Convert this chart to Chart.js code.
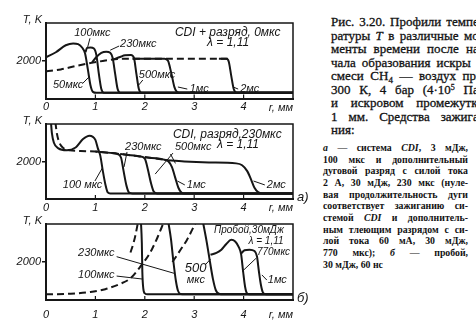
<!DOCTYPE html>
<html>
<head>
<meta charset="utf-8">
<script src="https://cdn.jsdelivr.net/npm/chart.js@4.4.0/dist/chart.umd.min.js"></script>
<style>
body{margin:0;width:476px;height:330px;overflow:hidden;background:#fff;position:relative}
canvas{position:absolute;left:0}
.cap{position:absolute;color:#111}
.cap div{position:absolute;left:0;text-align:justify;text-align-last:justify}
#capTop{left:331px;top:0;width:152px;font:13px "Liberation Serif",serif;-webkit-text-stroke:0.3px #111}
#capTop div{width:152px;height:14px;line-height:14px}
#capBot{left:323px;top:0;width:145px;font:bold 9.8px "Liberation Serif",serif}
#capBot div{width:145px;height:12px;line-height:12px}
.sub{font-size:9px;position:relative;top:3px}
.sup{font-size:8px;position:relative;top:-4px}
</style>
</head>
<body>
<canvas id="pA" width="320" height="114" style="top:0"></canvas>
<canvas id="pB" width="320" height="100" style="top:114px"></canvas>
<canvas id="pC" width="320" height="116" style="top:214px"></canvas>

<div class="cap" id="capTop">
  <div style="top:15px">Рис. 3.20. Профили темпе-</div>
  <div style="top:28.5px">ратуры <i>T</i> в различные мо-</div>
  <div style="top:42px">менты времени после на-</div>
  <div style="top:55.5px">чала образования искры в</div>
  <div style="top:69px">смеси CH<span class="sub">4</span> — воздух при</div>
  <div style="top:82.5px">300 К, 4 бар (4·10<span class="sup">5</span> Па)</div>
  <div style="top:96px">и искровом промежутке</div>
  <div style="top:109.5px">1 мм. Средства зажига-</div>
  <div style="top:123px;text-align-last:left">ния:</div>
</div>
<div class="cap" id="capBot">
  <div style="top:142px"><i>а</i> — система <i>CDI</i>, 3 мДж,</div>
  <div style="top:153.7px">100 мкс и дополнительный</div>
  <div style="top:165.3px">дуговой разряд с силой тока</div>
  <div style="top:177px">2 А, 30 мДж, 230 мкс (нуле-</div>
  <div style="top:188.6px">вая продолжительность дуги</div>
  <div style="top:200.3px">соответствует зажиганию си-</div>
  <div style="top:212px">стемой <i>CDI</i> и дополнитель-</div>
  <div style="top:223.6px">ным тлеющим разрядом с си-</div>
  <div style="top:235.3px">лой тока 60 мА, 30 мДж,</div>
  <div style="top:247px">770 мкс); <i>б</i>&nbsp;—&nbsp;пробой,</div>
  <div style="top:258.6px;text-align-last:left">30 мДж, 60 нс</div>
</div>

<script>
// axis ticks
const xTicks = [0, 1, 2, 3, 4];
const yTicks = [2000];

// panel 1: CDI + разряд, 0 мкс   [r (мм), T (K)]
const top50   = [[0,2180],[0.2,2450],[0.4,2820],[0.55,2920],[0.65,2880],[0.73,2700],[0.79,2400],[0.85,1500],[0.9,700],[0.95,350],[1.02,300],[5,300]];
const top100  = [[0.8,2450],[0.83,2680],[0.9,2700],[0.97,2650],[1.02,2300],[1.07,1300],[1.12,500],[1.17,310],[1.25,300],[5,300]];
const top230  = [[0.93,1900],[1.02,2200],[1.12,2420],[1.22,2480],[1.3,2420],[1.35,2150],[1.4,1300],[1.45,500],[1.5,310],[1.6,300],[5,300]];
const top500  = [[1.38,2080],[1.5,2200],[1.6,2290],[1.72,2300],[1.78,2150],[1.83,1300],[1.88,500],[1.93,310],[2.0,300],[5,300]];
const top1ms  = [[1.75,2110],[2.4,2110],[2.47,2000],[2.54,1300],[2.6,600],[2.67,320],[2.75,300],[5,300]];
const top2ms  = [[3.5,2110],[3.65,2100],[3.7,1950],[3.75,1200],[3.8,500],[3.86,310],[3.95,300],[5,300]];
const topDash = [[0,1430],[0.3,1540],[0.6,1720],[0.95,1900],[1.2,2010],[1.45,2090],[1.75,2110],[3.7,2110]];

// panel 2 (а): CDI, разряд 230 мкс
const mid100  = [[0.1,4100],[0.12,3500],[0.16,3000],[0.25,2700],[0.42,2600],[0.6,2750],[0.75,3200],[0.88,3380],[1.0,3150],[1.05,2700],[1.1,2300],[1.15,1500],[1.2,800],[1.25,350],[1.3,300],[5,300]];
const mid230  = [[1.0,2530],[1.3,2460],[1.45,2400],[1.52,2200],[1.57,1500],[1.63,700],[1.68,350],[1.75,300],[5,300]];
const mid500  = [[1.5,2400],[1.9,2270],[2.0,2150],[2.06,1600],[2.12,900],[2.18,400],[2.25,300],[5,300]];
const mid1ms  = [[2.0,2220],[2.42,2080],[2.48,2000],[2.55,1700],[2.62,1100],[2.68,600],[2.74,350],[2.8,300],[5,300]];
const mid2ms  = [[2.4,2080],[2.8,2000],[3.3,1950],[3.85,1900],[3.97,1800],[4.07,1500],[4.15,1050],[4.22,600],[4.3,350],[4.38,300],[5,300]];
const midDash = [[0.19,4100],[0.22,3500],[0.28,2950],[0.36,2700],[0.48,2600],[0.7,2560],[1.0,2530],[1.4,2430],[1.8,2300],[2.2,2170],[2.45,2080]];

// panel 3 (б): пробой, 30 мДж
const botDash  = [[0,300],[0.5,330],[0.9,420],[1.2,570],[1.5,850],[1.7,1120],[1.85,1550],[1.95,1900],[2.05,2250],[2.15,2700],[2.25,3250],[2.33,3750],[2.4,4200]];
const botDash2 = [[1.71,2500],[1.76,2900],[1.81,3400],[1.87,4200]];
const botDash3 = [[2.56,2000],[2.65,2350],[2.75,2750],[2.85,3150],[2.95,3650],[3.05,4200]];
const bot100   = [[1.92,4200],[1.94,3000],[1.95,1500],[1.97,600],[2.0,350],[2.06,300],[5,300]];
const bot230   = [[2.47,4200],[2.53,3200],[2.58,2000],[2.63,1000],[2.67,500],[2.72,320],[2.82,300],[5,300]];
const bot500   = [[3.17,4200],[3.25,3100],[3.32,2000],[3.38,1100],[3.44,500],[3.5,330],[3.6,300],[5,300]];
const bot770   = [[3.33,2380],[3.45,2480],[3.55,2650],[3.65,2950],[3.75,3170],[3.83,3080],[3.9,2800],[3.95,2400],[3.99,1500],[4.03,700],[4.07,350],[4.12,300],[5,300]];
const bot1ms   = [[3.95,2450],[4.02,2620],[4.12,2650],[4.22,2580],[4.27,2300],[4.31,1500],[4.35,800],[4.39,400],[4.45,300],[5,300]];

const ink = '#161616';
const fam = '"Liberation Sans", Arial, sans-serif';

function frame(cfg) {
  return {
    id: 'frame',
    afterDatasetsDraw(chart) {
      const {ctx, chartArea: a, scales: {x, y}} = chart;
      ctx.save();
      ctx.strokeStyle = ink;
      ctx.fillStyle = ink;
      ctx.lineWidth = 1.5;
      ctx.beginPath();
      ctx.moveTo(a.left, a.top); ctx.lineTo(a.right, a.top); ctx.lineTo(a.right, a.bottom);
      ctx.stroke();
      // small inner ticks
      ctx.lineWidth = 1.2;
      xTicks.slice(1).forEach(v => {
        const px = x.getPixelForValue(v);
        ctx.beginPath(); ctx.moveTo(px, a.bottom); ctx.lineTo(px, a.bottom - 4); ctx.stroke();
      });
      // leaders
      ctx.lineWidth = 1;
      cfg.leaders.forEach(l => {
        ctx.beginPath();
        ctx.moveTo(x.getPixelForValue(l[0]), y.getPixelForValue(l[1]));
        ctx.lineTo(x.getPixelForValue(l[2]), y.getPixelForValue(l[3]));
        ctx.stroke();
      });
      ctx.textBaseline = 'middle';
      ctx.textAlign = 'left';
      cfg.notes.forEach(n => {
        ctx.font = 'italic ' + (n[3] || 11) + 'px ' + fam;
        ctx.fillText(n[0], x.getPixelForValue(n[1]), y.getPixelForValue(n[2]));
      });
      ctx.font = 'italic 11px ' + fam;
      ctx.textAlign = 'right';
      ctx.fillText('T, K', a.left - 4, a.top - 3);
      ctx.fillText('r, мм', a.right, a.bottom + cfg.pad + 7);
      if (cfg.tag) {
        ctx.textAlign = 'left';
        ctx.font = 'italic 13px ' + fam;
        ctx.fillText(cfg.tag, a.right + 4, a.bottom - 2);
      }
      ctx.restore();
    }
  };
}

function panel(id, cfg) {
  const cv = document.getElementById(id);
  const H = cv.height;
  return new Chart(cv, {
    type: 'line',
    data: {
      datasets: cfg.curves.map(c => ({
        data: c[0].map(p => ({x: p[0], y: p[1]})),
        borderColor: ink,
        borderWidth: 2,
        borderDash: c[1] ? [7, 4] : [],
        pointRadius: 0,
        cubicInterpolationMode: 'monotone',
        clip: 0,
        fill: false
      }))
    },
    options: {
      responsive: false,
      animation: false,
      events: [],
      layout: {padding: {top: cfg.top, right: 27, left: 0, bottom: 0}},
      plugins: {legend: {display: false}, tooltip: {enabled: false}},
      scales: {
        x: {
          type: 'linear', min: 0, max: 5,
          afterFit: s => { s.height = H - cfg.bottom; },
          grid: {display: false, drawTicks: false},
          border: {display: true, color: ink, width: 2},
          ticks: {
            stepSize: 1, padding: cfg.pad, color: ink, maxRotation: 0, autoSkip: false,
            font: {family: fam, style: 'italic', size: 11},
            callback: v => xTicks.includes(v) ? String(v) : ''
          }
        },
        y: {
          min: 0, max: 4000,
          afterFit: s => { s.width = 46; },
          grid: {
            drawOnChartArea: false, drawTicks: true, tickLength: 4, lineWidth: 1.5,
            color: c => (c.tick && yTicks.includes(c.tick.value)) ? ink : 'rgba(0,0,0,0)'
          },
          border: {display: true, color: ink, width: 2},
          ticks: {
            stepSize: 2000, padding: 1, color: ink,
            font: {family: fam, style: 'italic', size: 11},
            callback: v => yTicks.includes(v) ? String(v) : ''
          }
        }
      }
    },
    plugins: [frame(cfg)]
  });
}

panel('pA', {
  top: 23, bottom: 98.5, pad: 2, tag: '',
  curves: [[topDash, true], [top50], [top100], [top230], [top500], [top1ms], [top2ms]],
  notes: [['100мкс', 0.57, 3470], ['230мкс', 1.5, 2870], ['500мкс', 1.88, 1230], ['50мкс', 0.14, 715],
          ['1мс', 2.91, 490], ['2мс', 3.93, 490], ['CDI + разряд, 0мкс', 2.61, 3470, 12], ['λ = 1,11', 3.26, 2940, 12]],
  leaders: [[0.89,3190,0.84,2690], [1.48,2780,1.3,2560], [1.96,980,1.86,660], [0.75,820,0.87,1140],
            [2.86,500,2.67,610], [3.89,500,3.79,610]]
});

panel('pB', {
  top: 10, bottom: 85, pad: 2, tag: 'а)',
  curves: [[midDash, true], [mid100], [mid230], [mid500], [mid1ms], [mid2ms]],
  notes: [['CDI, разряд,230мкс', 2.57, 3410, 12], ['λ = 1,11', 3.46, 2880, 12], ['230мкс', 1.6, 2770], ['500мкс', 2.61, 2770],
          ['100 мкс', 0.34, 750], ['1мс', 2.85, 750], ['2мс', 4.47, 750]],
  leaders: [[1.64,2510,1.58,1710], [2.57,2450,2.21,1330], [2.52,2400,2.62,1900], [0.99,960,1.14,1650],
            [2.81,750,2.66,960], [4.43,750,4.2,960]]
});

panel('pC', {
  top: 10, bottom: 86, pad: 8, tag: 'б)',
  curves: [[botDash, true], [botDash2, true], [botDash3, true], [bot100], [bot230], [bot500], [bot770], [bot1ms]],
  notes: [['230мкс', 0.65, 2490], ['100мкс', 0.65, 1320], ['500', 2.81, 1680, 13], ['мкс', 2.85, 1050],
          ['770мкс', 4.27, 2530, 10], ['1мс', 4.49, 1050], ['Пробой,30мДж', 3.4, 3650, 10], ['λ = 1,11', 4.1, 3120, 10]],
  leaders: [[1.43,2280,2.6,1400], [1.43,1260,1.96,1100], [3.22,1840,3.33,2150], [4.25,2190,3.97,1500],
            [4.47,1050,4.37,1320]]
});
</script>
</body>
</html>
